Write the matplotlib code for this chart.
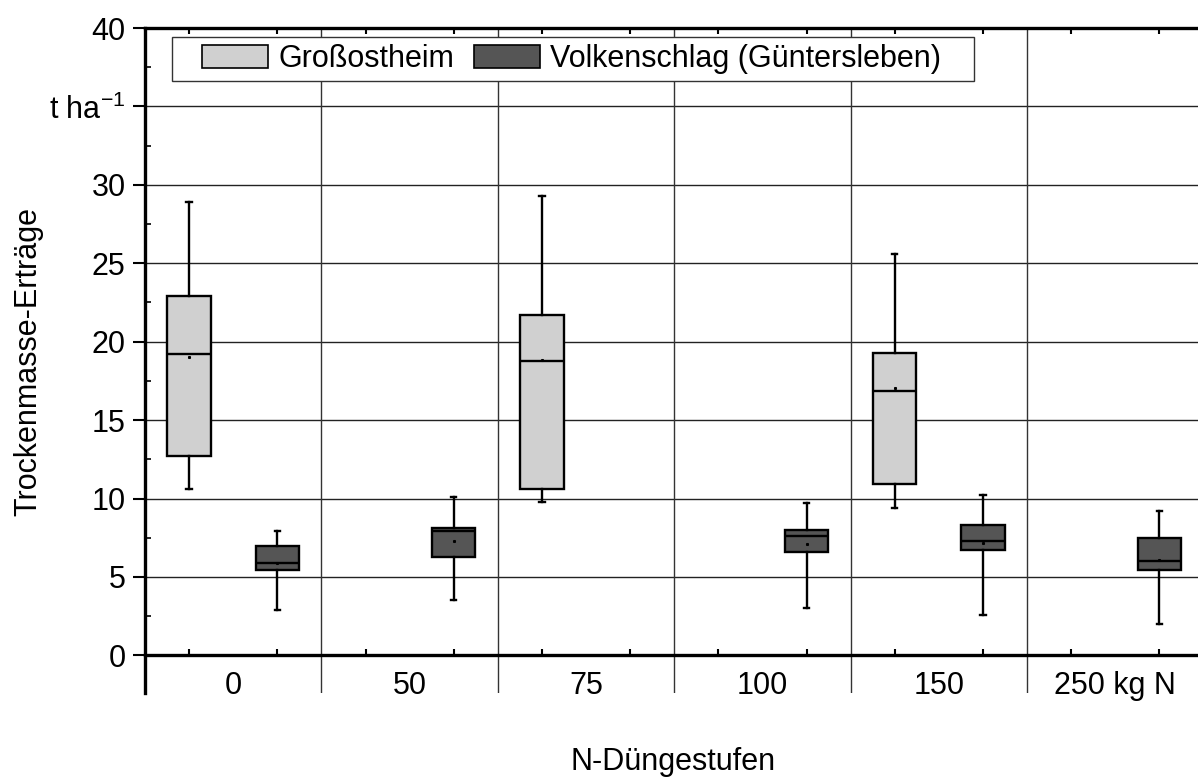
import matplotlib
matplotlib.use("Agg")
import matplotlib.pyplot as plt
from matplotlib.patches import Patch, Rectangle
from matplotlib.ticker import MultipleLocator, FixedLocator

plt.rcParams['font.family'] = ['Liberation Sans', 'DejaVu Sans']
plt.rcParams['mathtext.fontset'] = 'custom'
plt.rcParams['mathtext.rm'] = 'Liberation Sans'
plt.rcParams['mathtext.it'] = 'Liberation Sans'

# N levels (x categories)
categories = ["0", "50", "75", "100", "150", "250 kg N"]

# Großostheim: present at 0, 75, 150
gross_idx = [0, 2, 4]
gross_whishi = [28.9, 29.3, 25.6]
gross_q3 = [22.9, 21.7, 19.3]
gross_med = [19.2, 18.8, 16.85]
gross_mean = [19.0, 18.85, 17.05]
gross_q1 = [12.7, 10.6, 10.9]
gross_whislo = [10.6, 9.8, 9.4]

# Volkenschlag (Güntersleben): present at 0, 50, 100, 150, 250
volk_idx = [0, 1, 3, 4, 5]
volk_whishi = [7.9, 10.1, 9.7, 10.2, 9.2]
volk_q3 = [6.95, 8.15, 8.0, 8.3, 7.5]
volk_med = [5.9, 7.95, 7.6, 7.3, 6.0]
volk_mean = [5.9, 7.3, 7.1, 7.15, 6.1]
volk_q1 = [5.45, 6.3, 6.6, 6.7, 5.45]
volk_whislo = [2.9, 3.55, 3.0, 2.55, 2.0]

yticks = [0, 5, 10, 15, 20, 25, 30, 35, 40]
ytick_labels = ["0", "5", "10", "15", "20", "25", "30", "t ha$^{-1}$", "40"]

light = "#d0d0d0"
dark = "#555555"
fs = 22


def make_stats(whislo, q1, med, q3, whishi, mean):
    stats = []
    for lo, a, m, b, hi, mu in zip(whislo, q1, med, q3, whishi, mean):
        stats.append({"whislo": lo, "q1": a, "med": m, "q3": b,
                      "whishi": hi, "mean": mu, "fliers": []})
    return stats


fig = plt.figure(figsize=(11.98, 7.78), dpi=100)
ax = fig.add_axes([145 / 1198, 1 - 693 / 778, 1 - 145 / 1198, (693 - 28) / 778])

box_w = 0.245
lw = 1.7
common = dict(widths=box_w, patch_artist=True, showmeans=True,
              meanprops=dict(marker='s', markersize=1.2, markerfacecolor='black',
                             markeredgecolor='black'),
              medianprops=dict(color='black', linewidth=lw),
              whiskerprops=dict(color='black', linewidth=lw),
              capprops=dict(color='black', linewidth=lw),
              capwidths=0.03, zorder=3)

b1 = ax.bxp(make_stats(gross_whislo, gross_q1, gross_med, gross_q3, gross_whishi, gross_mean),
            positions=[i - 0.25 for i in gross_idx], **common)
b2 = ax.bxp(make_stats(volk_whislo, volk_q1, volk_med, volk_q3, volk_whishi, volk_mean),
            positions=[i + 0.25 for i in volk_idx], **common)
for patch in b1["boxes"]:
    patch.set_facecolor(light)
    patch.set_edgecolor("black")
    patch.set_linewidth(lw)
for patch in b2["boxes"]:
    patch.set_facecolor(dark)
    patch.set_edgecolor("black")
    patch.set_linewidth(lw)

n = len(categories)
ax.set_xlim(-0.5, (1198 - 145) / 176.4 - 0.5)
ax.set_ylim(-2.4, 40)

# grid
for y in yticks[1:-1]:
    ax.axhline(y, color="#222222", linewidth=1.0, zorder=1)
for k in range(n - 1):
    ax.axvline(k + 0.5, color="#333333", linewidth=1.0, zorder=1)

# spines
ax.spines["right"].set_visible(False)
ax.spines["bottom"].set_position(("data", 0))
ax.spines["bottom"].set_linewidth(2.4)
ax.spines["left"].set_linewidth(2.4)
ax.spines["top"].set_linewidth(2.4)
ax.spines["top"].set_position(("data", 40))

# ticks
ax.set_yticks(yticks)
ax.set_yticklabels(ytick_labels, fontsize=fs)
ax.yaxis.set_minor_locator(MultipleLocator(2.5))
ax.tick_params(axis="y", which="major", direction="out", length=9, width=1.5, pad=5)
ax.tick_params(axis="y", which="minor", direction="in", length=4, width=1.2)

ax.set_xticks(range(n))
ax.set_xticklabels(categories, fontsize=fs)
ax.xaxis.set_minor_locator(FixedLocator([k + d for k in range(n) for d in (-0.25, 0.25)]))
ax.tick_params(axis="x", which="major", length=0, pad=11)
ax.tick_params(axis="x", which="minor", direction="in", length=4, width=1.5,
               top=True, bottom=True)

# legend: frame drawn separately to get the wide side padding
ax.add_patch(Rectangle((27 / 1053, (693 - 81) / 665), (974 - 172) / 1053, 44 / 665,
                       transform=ax.transAxes, facecolor="white", edgecolor="#333333",
                       linewidth=1.0, zorder=4))
handles = [Patch(facecolor=light, edgecolor="black", linewidth=1.2, label="Großostheim"),
           Patch(facecolor=dark, edgecolor="black", linewidth=1.2,
                 label="Volkenschlag (Güntersleben)")]
leg = ax.legend(handles=handles, loc="center left",
                bbox_to_anchor=(57 / 1053, (693 - 59) / 665),
                ncol=2, fontsize=fs, frameon=False,
                handlelength=2.16, handleheight=0.75,
                handletextpad=0.33, columnspacing=0.65, borderpad=0,
                borderaxespad=0)
leg.set_zorder(5)

fig.text(28 / 1198, 1 - 362 / 778, "Trockenmasse-Erträge", rotation=90,
         ha="center", va="center", fontsize=fs)
fig.text(673 / 1198, 1 - 762 / 778, "N-Düngestufen", ha="center", va="center",
         fontsize=fs)

fig.savefig("out.png", dpi=100)
plt.close(fig)
